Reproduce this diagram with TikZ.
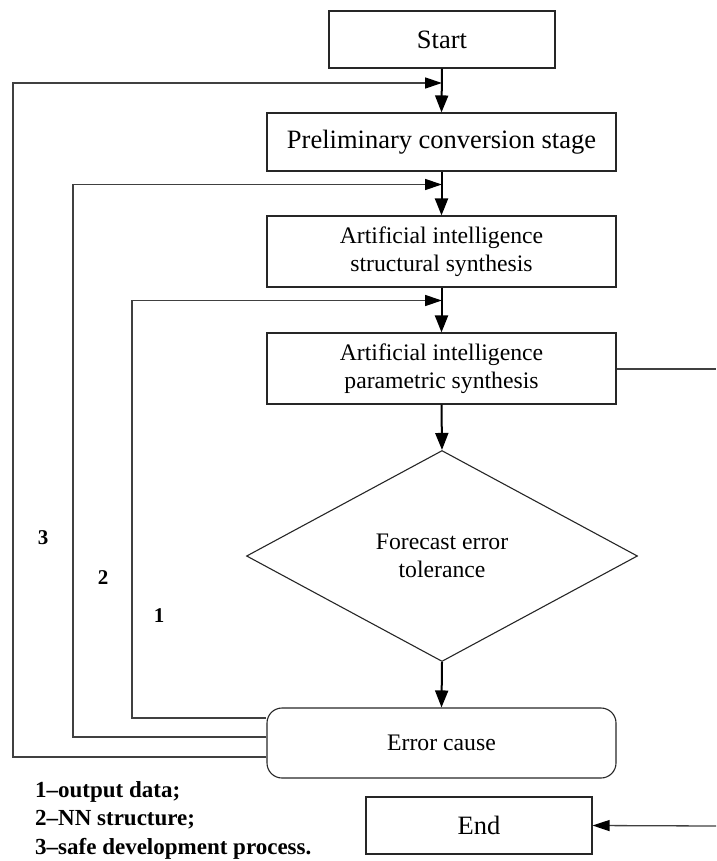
\documentclass[tikz,border=0pt]{standalone}
\usepackage{fontspec}
\setmainfont{Liberation Serif}
\usetikzlibrary{shapes.geometric,arrows.meta}
\tikzset{
  big/.style={font=\fontsize{26.5}{31}\selectfont},
  med/.style={font=\fontsize{23.7}{27.5}\selectfont},
  boxx/.style={draw=black!85, line width=1.1pt, rectangle, inner sep=0pt, align=center},
  main/.style={line width=2pt, -{Triangle[length=17pt,width=13pt]}},
  loop/.style={draw=black!75, line width=1.3pt, -{Triangle[length=17pt,width=11pt,color=black]}},
  plain/.style={draw=black!75, line width=1.3pt},
  lbl/.style={font=\bfseries\fontsize{21}{25}\selectfont},
  legend/.style={font=\bfseries\fontsize{23}{28.5}\selectfont, anchor=west, inner sep=0pt},
}
\begin{document}
\begin{tikzpicture}[x=1pt,y=-1pt]
\useasboundingbox (0,0) rectangle (716,861);

\node[boxx,big,minimum width=226pt,minimum height=57pt] (start) at (442,39.5) {Start};
\node[boxx,big,minimum width=349pt,minimum height=58pt] (prel) at (441.5,142) {Preliminary conversion stage};
\node[boxx,med,minimum width=349pt,minimum height=71pt] (struct) at (441.5,251.5) {Artificial intelligence\\structural synthesis};
\node[boxx,med,minimum width=349pt,minimum height=71pt] (param) at (441.5,368.5) {Artificial intelligence\\parametric synthesis};
\node[diamond,draw=black!85,line width=1.1pt,med,align=center,inner sep=0pt,minimum width=391pt,minimum height=211pt] (dec) at (442,556) {Forecast error\\tolerance};
\node[boxx,med,rounded corners=15pt,minimum width=349pt,minimum height=70pt] (err) at (441.5,743) {Error cause};
\node[boxx,big,minimum width=226pt,minimum height=57pt] (end) at (479,825.5) {End};

\coordinate (j3) at (442,83);
\coordinate (j2) at (442,184.5);
\coordinate (j1) at (442,300.5);
\coordinate (r1) at (716,369);
\coordinate (r2) at (716,826);

\draw[main] (start.south) -- (prel.north);
\draw[main] (prel.south) -- (struct.north);
\draw[main] (struct.south) -- (param.north);
\draw[main] (param.south) -- (dec.north);
\draw[main] (dec.south) -- (err.north);

\draw[loop] ([yshift=25pt]err.west) -| (132,300.5) -- (j1);
\draw[loop] ([yshift=6pt]err.west) -| (73,184.5) -- (j2);
\draw[loop] ([yshift=-14pt]err.west) -| (13,83) -- (j3);

\draw[plain] (param.east |- r1) -- (r1);
\draw[plain,-{Triangle[length=17pt,width=11pt,color=black]}] (r2) -- (end.east);

\node[lbl] (l3) at (43,538) {3};
\node[lbl] (l2) at (103,578) {2};
\node[lbl] (l1) at (159,616) {1};

\node[legend] (g1) at (35,792) {1–output data;};
\node[legend] (g2) at (35,820) {2–NN structure;};
\node[legend] (g3) at (35,849) {3–safe development process.};
\end{tikzpicture}
\end{document}
